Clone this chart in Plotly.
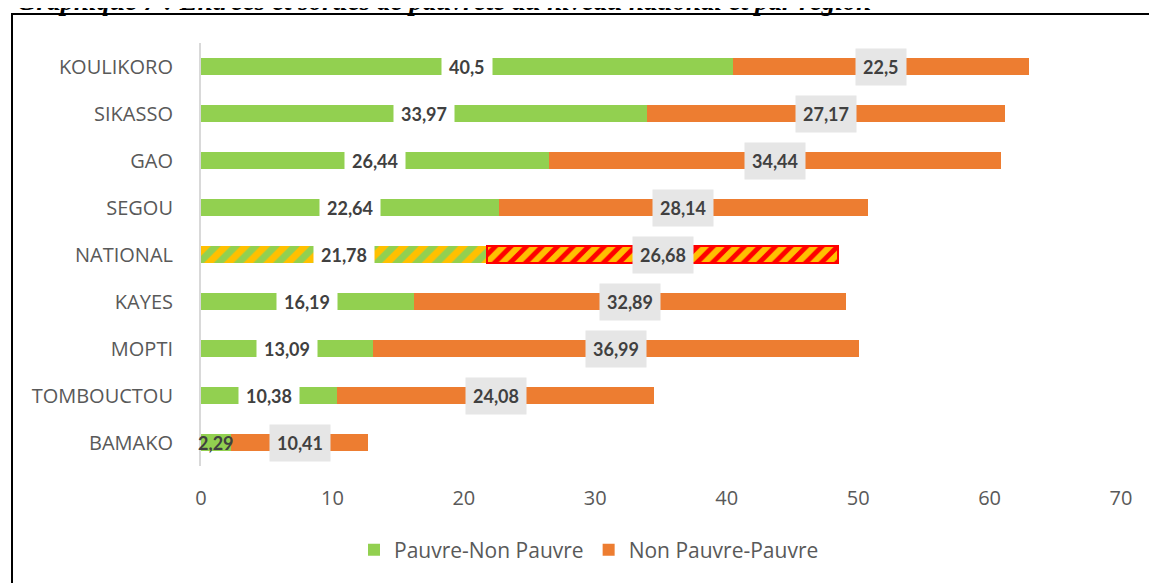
import plotly.graph_objects as go

regions = ["KOULIKORO", "SIKASSO", "GAO", "SEGOU", "NATIONAL", "KAYES", "MOPTI", "TOMBOUCTOU", "BAMAKO"]
pauvre_non_pauvre = [40.5, 33.97, 26.44, 22.64, 21.78, 16.19, 13.09, 10.38, 2.29]
non_pauvre_pauvre = [22.5, 27.17, 34.44, 28.14, 26.68, 32.89, 36.99, 24.08, 10.41]
x_ticks = [0, 10, 20, 30, 40, 50, 60, 70]
title_text = "Graphique 7 : Entrées et sorties de pauvreté au niveau national et par région"

GREEN = "#92D050"
ORANGE = "#ED7D31"
YELLOW = "#FFC000"
RED = "#FF0000"

# page has an 8px body margin: figure origin sits at page (8, 8)
OFF = 8
PL, PR, PT, PB = 201, 1121, 43, 466  # plot area in page pixels
W, H = 1157 - OFF, 583 - OFF


def fmt(v):
    return str(v).replace(".", ",")


def px(p):
    return (p - PL) / (PR - PL)


def py(p):
    return (PB - p) / (PB - PT)


is_nat = [r == "NATIONAL" for r in regions]

fig = go.Figure()
fig.add_trace(go.Bar(
    y=regions, x=pauvre_non_pauvre, orientation="h", name="Pauvre-Non Pauvre",
    marker=dict(
        color=GREEN,
        line=dict(width=0),
        pattern=dict(shape=["/" if n else "" for n in is_nat],
                     fgcolor=GREEN, bgcolor=YELLOW, fgopacity=1,
                     size=14, solidity=0.5),
    ),
    hoverinfo="skip",
))
fig.add_trace(go.Bar(
    y=regions, x=non_pauvre_pauvre, orientation="h", name="Non Pauvre-Pauvre",
    marker=dict(
        color=ORANGE,
        line=dict(width=[2 if n else 0 for n in is_nat], color=RED),
        pattern=dict(shape=["/" if n else "" for n in is_nat],
                     fgcolor=RED, bgcolor=YELLOW, fgopacity=1,
                     size=11, solidity=0.45),
    ),
    hoverinfo="skip",
))

annotations = []
for r, g, o in zip(regions, pauvre_non_pauvre, non_pauvre_pauvre):
    annotations.append(dict(
        x=g / 2, y=r, xref="x", yref="y", text="<b>" + fmt(g) + "</b>", showarrow=False,
        font=dict(family="Lato", size=18, color="#404040"),
        bgcolor="rgba(0,0,0,0)" if r == "BAMAKO" else "white", borderpad=7,
    ))
    annotations.append(dict(
        x=g + o / 2, y=r, xref="x", yref="y", text="<b>" + fmt(o) + "</b>", showarrow=False,
        font=dict(family="Lato", size=18, color="#404040"),
        bgcolor="#E6E6E6", borderpad=7,
    ))

annotations.append(dict(
    x=px(15), y=py(18), xref="paper", yref="paper", xanchor="left", yanchor="bottom",
    text="<b><i>" + title_text + "</i></b>", showarrow=False,
    font=dict(family="Liberation Serif", size=27, color="black"),
))

fig.update_layout(
    width=W, height=H,
    margin=dict(l=PL - OFF, r=W - (PR - OFF), t=PT - OFF, b=H - (PB - OFF)),
    paper_bgcolor="white", plot_bgcolor="white",
    barmode="stack", bargap=0.62,
    showlegend=True,
    legend=dict(orientation="h", x=px(589), xanchor="center", y=py(550), yanchor="middle",
                font=dict(family="Open Sans", size=21, color="#595959"), traceorder="normal",
                itemwidth=30),
    annotations=annotations,
    shapes=[dict(type="rect", xref="paper", yref="paper",
                 x0=px(12), x1=px(1175),
                 y0=py(600), y1=py(14),
                 line=dict(color="black", width=2), fillcolor="rgba(0,0,0,0)", layer="below")],
    font=dict(family="Open Sans", color="#595959"),
)
fig.update_xaxes(range=[0, 70], tickvals=x_ticks, ticktext=[str(t) for t in x_ticks],
                 showgrid=False, zeroline=False, showline=False,
                 tickfont=dict(family="Open Sans", size=20, color="#595959"),
                 ticklabelstandoff=18, fixedrange=True)
fig.update_yaxes(categoryorder="array", categoryarray=regions, autorange="reversed",
                 showgrid=False, zeroline=False, showline=True, linecolor="#D9D9D9", linewidth=2,
                 tickfont=dict(family="Open Sans", size=20, color="#595959"),
                 ticklabelstandoff=22, fixedrange=True)

fig.write_html("out.html")
